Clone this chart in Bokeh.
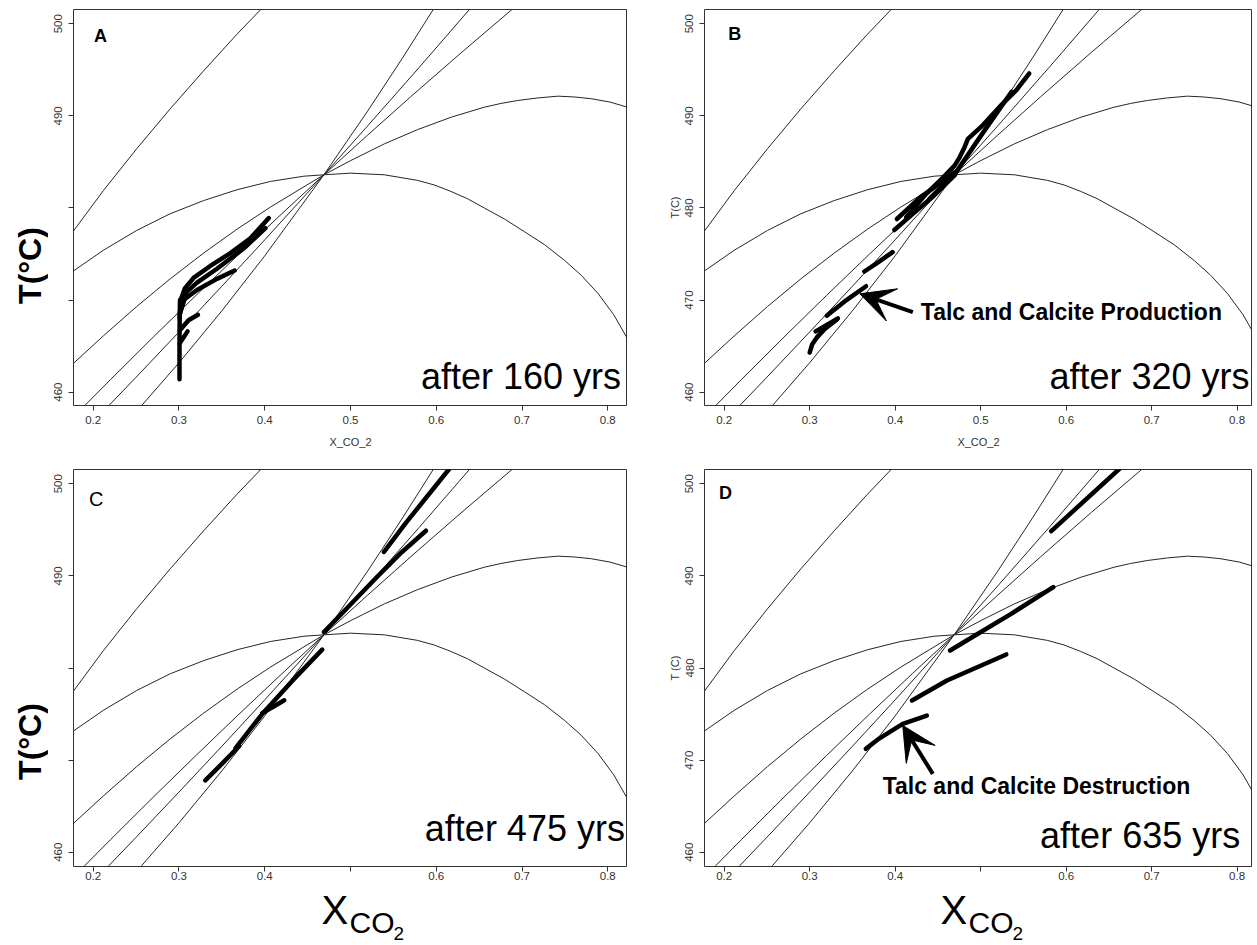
from math import pi
from bokeh.plotting import figure
from bokeh.layouts import column, row
from bokeh.models import Range1d, FixedTicker, Label, Arrow, VeeHead
from bokeh.core.properties import value
from bokeh.embed import file_html
from bokeh.resources import INLINE

FONT = "Liberation Sans"

# ---------------- axes ----------------
x_ticks = [0.2, 0.3, 0.4, 0.5, 0.6, 0.7, 0.8]
y_ticks = [460, 470, 480, 490, 500]
x_lo = 0.177
x_hi_left, x_hi_right = 0.823, 0.818
t_lo, t_hi = 458.55, 501.55

# ---------------- background reaction curves (same in every panel) ----------------
curve_left_x = [0.170, 0.1766, 0.2117, 0.2507, 0.2897, 0.3287, 0.3677, 0.395, 0.402]
curve_left_t = [476.6, 477.45, 481.87, 486.43, 490.76, 494.89, 498.87, 501.52, 502.19]

dome_low_x = [0.170, 0.1766, 0.2117, 0.2507, 0.2897, 0.3287, 0.3677, 0.4067, 0.4457, 0.469,
              0.500, 0.5395, 0.578, 0.5975, 0.617, 0.6365, 0.656, 0.6795, 0.7032, 0.7265,
              0.7497, 0.769, 0.7888, 0.807, 0.823, 0.830]
dome_low_t = [472.7, 473.14, 475.4, 477.56, 479.37, 480.8, 481.98, 482.88, 483.45, 483.6,
              483.78, 483.6, 483.0, 482.5, 481.8, 481.0, 480.0, 478.8, 477.4, 476.0,
              474.3, 472.7, 470.7, 468.4, 465.8, 464.5]

dome_up_x = [0.170, 0.1766, 0.2117, 0.2507, 0.2897, 0.3287, 0.3677, 0.4067, 0.4457, 0.469,
             0.5005, 0.5395, 0.578, 0.6175, 0.656, 0.6755, 0.695, 0.7185, 0.742, 0.7615,
             0.781, 0.8025, 0.823, 0.830]
dome_up_t = [462.5, 463.1, 466.1, 469.3, 472.3, 475.1, 477.7, 480.1, 482.3, 483.6,
             485.16, 486.96, 488.5, 489.86, 490.94, 491.35, 491.67, 491.95, 492.14, 492.05,
             491.86, 491.5, 490.94, 490.7]

line_a_x = [0.250, 0.2566, 0.30, 0.35, 0.40, 0.469, 0.52, 0.56, 0.597, 0.605]
line_a_t = [457.9, 458.56, 463.19, 468.83, 474.8, 483.6, 490.52, 496.19, 501.63, 502.8]

line_b_x = [0.210, 0.2184, 0.25, 0.30, 0.35, 0.40, 0.469, 0.52, 0.58, 0.6394, 0.650]
line_b_t = [457.7, 458.56, 461.62, 466.53, 471.5, 476.54, 483.6, 488.91, 495.25, 501.63, 502.8]

line_c_x = [0.180, 0.1903, 0.22, 0.27, 0.32, 0.37, 0.42, 0.469, 0.52, 0.57, 0.63, 0.6893, 0.700]
line_c_t = [457.6, 458.56, 461.35, 465.98, 470.52, 474.99, 479.38, 483.6, 487.91, 492.06, 496.93, 501.63, 502.5]

# ---------------- fluid paths per panel (thick) ----------------
A_paths_x = [
    [0.3006, 0.3006, 0.3008, 0.3012],
    [0.3008, 0.3020, 0.3070, 0.3170, 0.3365, 0.3600, 0.3833, 0.4047],
    [0.3010, 0.3092, 0.3210, 0.3443, 0.3754, 0.4008],
    [0.3012, 0.3053, 0.3210, 0.3443, 0.3649],
    [0.3008, 0.3111, 0.3221],
    [0.3008, 0.3100],
]
A_paths_t = [
    [461.4, 465.0, 468.0, 470.0],
    [468.0, 470.0, 471.3, 472.4, 473.7, 475.1, 476.7, 478.9],
    [468.5, 470.9, 471.9, 473.4, 475.6, 477.8],
    [468.6, 470.0, 471.1, 472.3, 473.2],
    [466.7, 467.8, 468.4],
    [465.3, 466.6],
]

B_paths_x = [
    [0.300, 0.303, 0.309, 0.318, 0.332],
    [0.307, 0.320, 0.333],
    [0.320, 0.343, 0.366],
    [0.364, 0.380, 0.397],
    [0.399, 0.420, 0.445, 0.470],
    [0.402, 0.430, 0.456, 0.470],
    [0.413, 0.436, 0.456, 0.4695, 0.4754, 0.4812, 0.4851, 0.5027, 0.5223, 0.5418, 0.5567],
    [0.440, 0.470, 0.500, 0.536],
]
B_paths_t = [
    [464.3, 465.2, 466.0, 466.9, 467.9],
    [466.6, 467.3, 468.0],
    [468.3, 470.0, 471.5],
    [473.1, 474.1, 475.2],
    [477.6, 479.3, 481.3, 483.6],
    [478.8, 481.2, 482.9, 483.9],
    [479.0, 481.5, 483.3, 484.6, 485.5, 486.6, 487.5, 489.0, 491.0, 492.8, 494.6],
    [481.0, 483.7, 487.8, 492.6],
]

C_paths_x = [
    [0.3307, 0.350, 0.370],
    [0.366, 0.397, 0.432, 0.467],
    [0.397, 0.410, 0.4227],
    [0.469, 0.500, 0.530, 0.560, 0.588],
    [0.539, 0.565, 0.590, 0.615, 0.625],
]
C_paths_t = [
    [467.8, 469.6, 471.5],
    [471.3, 475.0, 478.6, 482.0],
    [475.1, 475.8, 476.5],
    [483.9, 486.9, 489.8, 492.6, 494.9],
    [492.6, 495.8, 498.7, 501.6, 502.8],
]

D_paths_x = [
    [0.3657, 0.3808, 0.4089, 0.4371],
    [0.4197, 0.4606, 0.530],
    [0.4643, 0.4934, 0.5357, 0.585],
    [0.5826, 0.6624, 0.670],
]
D_paths_t = [
    [471.22, 472.31, 473.94, 474.84],
    [476.47, 478.64, 481.47],
    [481.9, 483.53, 485.88, 488.78],
    [494.86, 501.63, 502.3],
]

# ---------------- texts ----------------
letters = ["A", "B", "C", "D"]
after_texts = ["after 160 yrs", "after 320 yrs", "after 475 yrs", "after 635 yrs"]
note_texts = ["Talc and Calcite Production", "Talc and Calcite Destruction"]

# placement of annotations (layout, not data); y values are text middles
letter_pos = [(0.201, 498.65), (0.2047, 498.85), (0.195, 498.3), (0.194, 499.05)]
after_pos = [(0.8154, 461.69), (0.8145, 461.69), (0.8200, 462.59), (0.8036, 461.79)]
note_pos = [(0.430, 468.7), (0.3854, 467.2)]
arrow_pos = [((0.4207, 468.69), (0.3587, 470.68)), ((0.4441, 468.5), (0.4089, 473.76))]


def base_fig(fw, fh, mbl, mbr, mbt, mbb, x_hi, xlabel="", ylabel="",
             x_over=None, y_over=None, xstand=5, trange=(t_lo, t_hi)):
    p = figure(x_range=Range1d(x_lo, x_hi), y_range=Range1d(*trange),
               frame_width=fw, frame_height=fh,
               min_border_left=mbl, min_border_right=mbr,
               min_border_top=mbt, min_border_bottom=mbb,
               title_location=None,
               output_backend="svg", toolbar_location=None)
    p.grid.visible = False
    p.outline_line_color = "#333333"
    p.outline_line_width = 1
    p.background_fill_color = "white"
    p.border_fill_color = "white"
    for ax in (p.xaxis[0], p.yaxis[0]):
        ax.axis_line_color = None
        ax.major_tick_line_color = "#333333"
        ax.major_tick_out = 5
        ax.major_tick_in = 0
        ax.minor_tick_line_color = None
        ax.major_label_text_font = FONT
        ax.major_label_text_font_size = "11.5px"
        ax.major_label_text_color = "#333333"
        ax.axis_label_text_font = FONT
        ax.axis_label_text_font_style = "normal"
        ax.axis_label_text_font_size = "11px"
        ax.axis_label_text_color = "#333333"
    p.xaxis.major_label_standoff = xstand
    p.yaxis.major_label_standoff = 6
    p.xaxis.axis_label_standoff = 9
    p.yaxis.axis_label_standoff = 2
    p.xaxis.ticker = FixedTicker(ticks=x_ticks)
    p.yaxis.ticker = FixedTicker(ticks=y_ticks)
    p.yaxis.major_label_orientation = "vertical"
    if xlabel:
        p.xaxis.axis_label = xlabel
    else:
        p.xaxis.axis_label_standoff = 0
        p.xaxis.axis_label_text_font_size = "1px"
    if ylabel:
        p.yaxis.axis_label = ylabel
    else:
        p.yaxis.axis_label_standoff = 0
        p.yaxis.axis_label_text_font_size = "1px"
    if x_over:
        p.xaxis.major_label_overrides = x_over
    if y_over:
        p.yaxis.major_label_overrides = y_over

    for xs, ts in [(curve_left_x, curve_left_t), (dome_low_x, dome_low_t),
                   (dome_up_x, dome_up_t), (line_a_x, line_a_t),
                   (line_b_x, line_b_t), (line_c_x, line_c_t)]:
        p.line(xs, ts, line_color="#262626", line_width=1)
    return p


def add_paths(p, xs_list, ts_list):
    p.multi_line(xs_list, ts_list, line_color="black", line_width=4.5,
                 line_cap="round", line_join="round")


def add_texts(p, i):
    lx, ly = letter_pos[i]
    p.add_layout(Label(x=lx, y=ly, text=letters[i],
                       text_font=FONT, text_font_size="20px" if i == 2 else "18px",
                       text_font_style="normal" if i == 2 else "bold",
                       text_color="black", text_align="left",
                       text_baseline="middle"))
    ax_, ay_ = after_pos[i]
    p.add_layout(Label(x=ax_, y=ay_, text=after_texts[i],
                       text_font=FONT, text_font_size="36px", text_color="black",
                       text_align="right", text_baseline="middle"))


def add_note(p, j):
    (xs, ys), (xe, ye) = arrow_pos[j]
    p.add_layout(Arrow(end=VeeHead(size=34, fill_color="black", line_color="black"),
                       x_start=xs, y_start=ys, x_end=xe, y_end=ye,
                       line_color="black", line_width=4))
    nx, ny = note_pos[j]
    p.add_layout(Label(x=nx, y=ny, text=note_texts[j],
                       text_font=FONT, text_font_size="23px", text_font_style="bold",
                       text_color="black", text_align="left", text_baseline="middle"))


def strip(w, h, x0, flip=False):
    yr = Range1d(h, 0) if flip else Range1d(0, h)
    s = figure(x_range=Range1d(x0, x0 + w), y_range=yr,
               frame_width=w, frame_height=h, min_border=0,
               x_axis_location=None, y_axis_location=None,
               title_location=None,
               output_backend="svg", toolbar_location=None)
    s.grid.visible = False
    s.outline_line_color = None
    s.background_fill_color = "white"
    s.border_fill_color = "white"
    return s


# ---------------- panels ----------------
LEFT_W = 48
FW_L, FW_R = 554, 548
BOTTOM_AXIS = 18
pA = base_fig(FW_L, 396, 73 - LEFT_W, 0, 9, 55, x_hi_left, xlabel="X_CO_2",
              y_over={480: "", 470: ""})
add_paths(pA, A_paths_x, A_paths_t)
add_texts(pA, 0)

pB = base_fig(FW_R, 396, 77, 0, 9, 55, x_hi_right, xlabel="X_CO_2", ylabel="T(C)")
add_paths(pB, B_paths_x, B_paths_t)
add_texts(pB, 1)
add_note(pB, 0)

pC = base_fig(FW_L, 397, 73 - LEFT_W, 0, 9, BOTTOM_AXIS, x_hi_left, x_over={0.5: ""},
              y_over={480: "", 470: ""}, xstand=0, trange=(458.45, 501.55))
add_paths(pC, C_paths_x, C_paths_t)
add_texts(pC, 2)

pD = base_fig(FW_R, 397, 77, 0, 9, BOTTOM_AXIS, x_hi_right, ylabel="T (C)", x_over={0.5: ""},
              xstand=0, trange=(458.45, 501.55))
add_paths(pD, D_paths_x, D_paths_t)
add_texts(pD, 3)
add_note(pD, 1)

# left strip holding the large vertical temperature titles (coordinates = page pixels)
H_TOTAL = 944
left = strip(LEFT_W, H_TOTAL, 0, flip=True)
left.text(x=[29, 29], y=[265, 741], text=["T(°C)", "T(°C)"],
          angle=pi / 2, text_align="center", text_baseline="middle",
          text_font=value(FONT), text_font_size="32px", text_font_style="bold",
          text_color="black")

# bottom strips holding the large X_CO2 titles (x in page pixels, y = text middle,
# measured downward from the strip's top edge at page y = 866 + BOTTOM_AXIS)
STRIP_TOP = 460 + 9 + 397 + BOTTOM_AXIS
STRIP_H = H_TOTAL - STRIP_TOP
xC = strip(73 + FW_L - LEFT_W, STRIP_H, LEFT_W, flip=True)
xD = strip(77 + FW_R, STRIP_H, 73 + FW_L, flip=True)
sub_parts = ["X", "CO", "2"]
sub_sizes = ["40px", "30px", "19px"]
sub_page_middle = [909, 922, 932.5]
for s, lefts in [(xC, [321, 349, 393]), (xD, [940, 968, 1012])]:
    for k in range(3):
        s.text(x=[lefts[k]], y=[sub_page_middle[k] - STRIP_TOP], text=[sub_parts[k]],
               text_align="left", text_baseline="middle",
               text_font=value(FONT), text_font_size=sub_sizes[k], text_color="black")

layout = row(left, column(row(pA, pB), row(pC, pD), row(xC, xD)))

open("out.html", "w").write(file_html(layout, INLINE))
